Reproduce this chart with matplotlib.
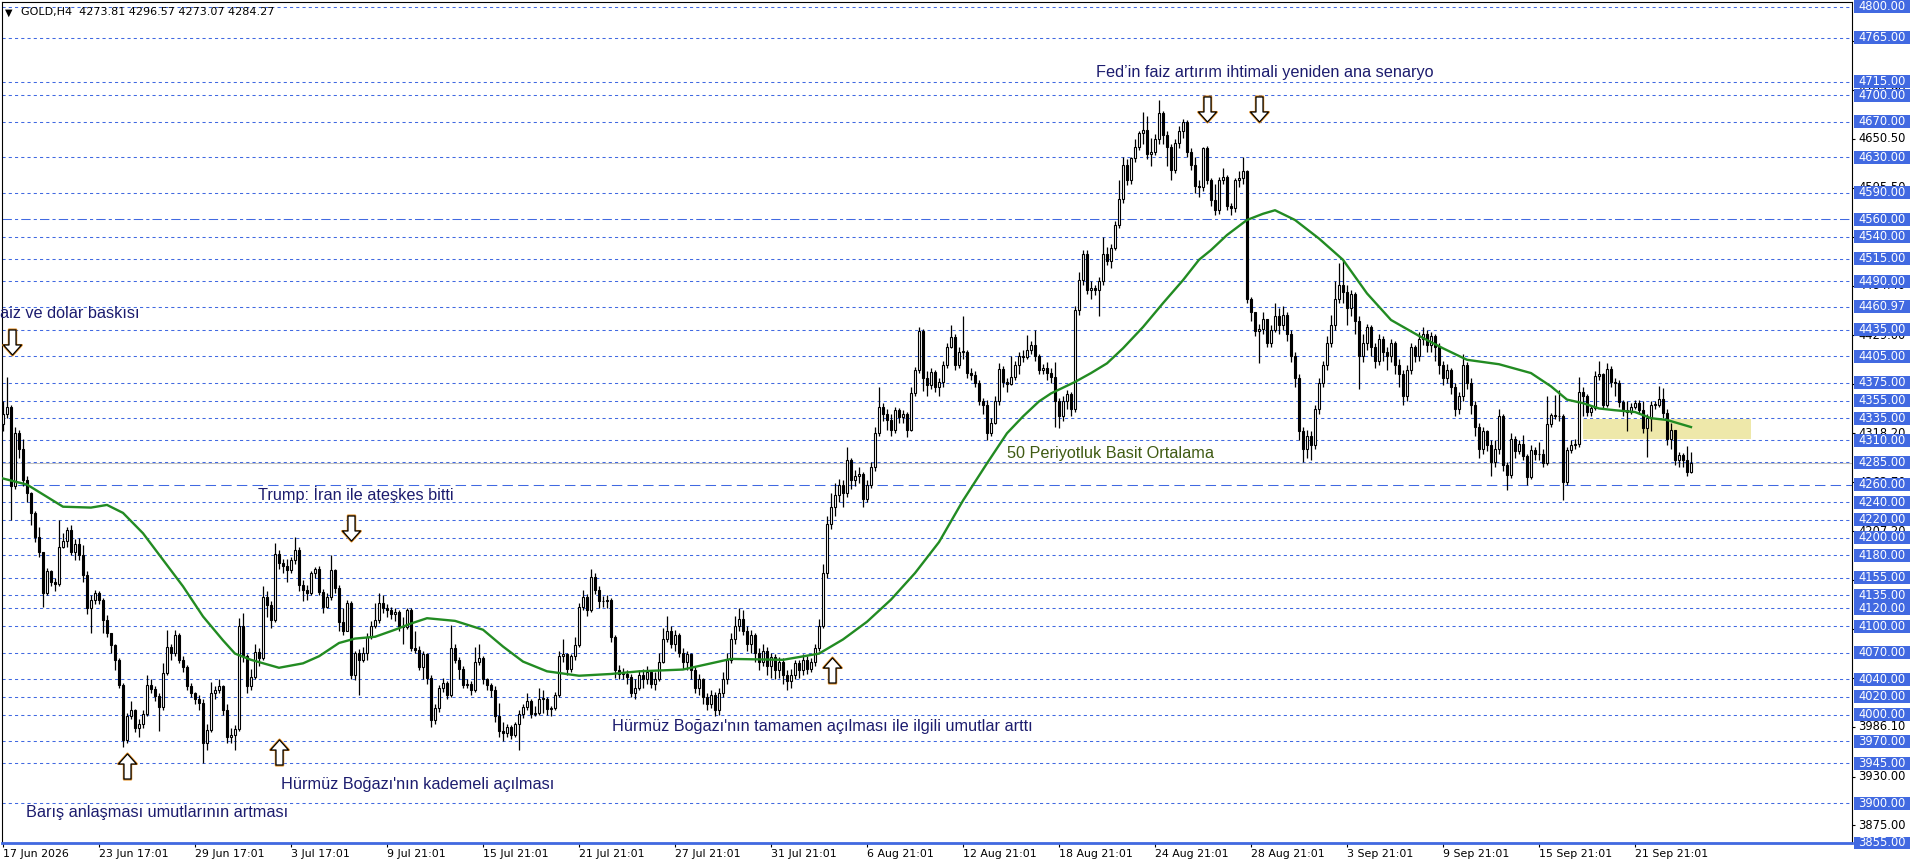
import matplotlib
matplotlib.use("Agg")
import matplotlib.pyplot as plt
from matplotlib import font_manager as fm
from matplotlib.patches import Rectangle
from matplotlib.path import Path

# ===== Data: GOLD H4 candles (open = previous close) =====
first_open = 4328
closes = [
    4340, 4348, 4258, 4318, 4300, 4265, 4250, 4228, 4201, 4184,
    4137, 4162, 4150, 4148, 4190, 4196, 4209, 4184, 4193, 4180,
    4158, 4120, 4130, 4137, 4130, 4107, 4092, 4079, 4062, 4034,
    3971, 3998, 4005, 3985, 3989, 4001, 4034, 4029, 4021, 4009,
    4047, 4077, 4070, 4090, 4062, 4054, 4032, 4024, 4018, 4013,
    3968, 3983, 4024, 4028, 4032, 4005, 3975, 3977, 3984, 4100,
    4066, 4032, 4043, 4071, 4064, 4133, 4124, 4107, 4182, 4171,
    4168, 4163, 4175, 4186, 4146, 4141, 4137, 4160, 4165, 4139,
    4122, 4133, 4163, 4143, 4105, 4094, 4126, 4045, 4070, 4062,
    4070, 4088, 4100, 4107, 4126, 4120, 4118, 4114, 4116, 4100,
    4099, 4118, 4075, 4073, 4054, 4069, 4041, 3994, 4007, 4030,
    4036, 4022, 4075, 4062, 4052, 4034, 4035, 4028, 4060, 4064,
    4040, 4034, 4028, 3998, 3981, 3979, 3986, 3977, 3989, 4001,
    4009, 4016, 4001, 4002, 4018, 4018, 4006, 4008, 4022, 4066,
    4068, 4052, 4066, 4079, 4122, 4133, 4118, 4156, 4141, 4128,
    4128, 4130, 4088, 4051, 4046, 4046, 4043, 4025, 4030, 4045,
    4040, 4048, 4035, 4040, 4060, 4085, 4095, 4080, 4090, 4070,
    4060, 4068, 4050, 4030, 4040, 4020, 4012, 4022, 4005, 4025,
    4040, 4062, 4085, 4100, 4108, 4095, 4080, 4090, 4070, 4060,
    4072, 4055, 4065, 4050, 4060, 4045, 4038, 4045, 4058, 4050,
    4062, 4052, 4060, 4075, 4100, 4160, 4215, 4235, 4248, 4260,
    4250, 4288, 4265, 4270, 4272, 4244, 4260, 4280, 4318, 4348,
    4340, 4333, 4322, 4344, 4336, 4340, 4322, 4363, 4389, 4433,
    4380, 4372, 4387, 4370, 4376, 4395, 4416, 4427, 4395, 4410,
    4410, 4386, 4384, 4375, 4355, 4350, 4318, 4330, 4355, 4391,
    4376, 4374, 4381, 4395, 4405, 4404, 4412, 4418, 4405, 4390,
    4392, 4386, 4382, 4355, 4337, 4355, 4362, 4345, 4457, 4491,
    4521, 4480, 4482, 4480, 4490, 4521, 4513, 4527, 4553, 4583,
    4621, 4604, 4629, 4642, 4657, 4661, 4634, 4636, 4650, 4680,
    4655, 4642, 4615, 4646, 4659, 4670, 4636, 4621, 4597, 4596,
    4640, 4604, 4582, 4570, 4604, 4608, 4575, 4572, 4604, 4606,
    4614, 4470, 4455, 4434, 4436, 4447, 4420, 4435, 4450, 4440,
    4452, 4430, 4405, 4380, 4320, 4300, 4315, 4305, 4345, 4375,
    4395, 4420, 4440, 4470, 4485, 4478, 4460, 4475, 4445, 4405,
    4420, 4438, 4415, 4400, 4425, 4410, 4405, 4420, 4395, 4385,
    4360, 4390, 4415, 4405, 4425, 4430, 4418, 4428, 4415, 4395,
    4380, 4390, 4370, 4345, 4360, 4395, 4375, 4350, 4325, 4300,
    4320, 4305, 4285, 4300, 4337, 4282, 4271, 4312, 4298, 4306,
    4292, 4269, 4299, 4294, 4294, 4284, 4329, 4339, 4337, 4338,
    4263, 4299, 4305, 4306, 4365, 4360, 4342, 4346, 4383, 4385,
    4350, 4391, 4376, 4375, 4353, 4344, 4342, 4348, 4352, 4344,
    4324, 4335, 4350, 4350, 4357, 4341, 4312, 4322, 4288, 4293,
    4288, 4273.81, 4284.27,
]
highs = [
    4355, 4382, 4350, 4325, 4322, 4312, 4270, 4252, 4230, 4212,
    4184, 4166, 4164, 4155, 4220, 4205, 4212, 4214, 4198, 4200,
    4192, 4162, 4135, 4141, 4140, 4132, 4113, 4092, 4080, 4064,
    4036, 4002, 4016, 4006, 3995, 4005, 4045, 4040, 4032, 4024,
    4058, 4096, 4080, 4096, 4092, 4066, 4056, 4036, 4026, 4022,
    4018, 3990, 4037, 4032, 4040, 4034, 4012, 3985, 3988, 4109,
    4115, 4068, 4052, 4080, 4075, 4145, 4140, 4128, 4194, 4186,
    4176, 4176, 4178, 4201, 4190, 4152, 4146, 4162, 4167, 4168,
    4142, 4138, 4180, 4165, 4146, 4120, 4130, 4128, 4072, 4074,
    4076, 4092, 4106, 4126, 4137, 4135, 4125, 4122, 4120, 4118,
    4110, 4120, 4120, 4094, 4078, 4072, 4070, 4045, 4012, 4034,
    4042, 4038, 4101, 4080, 4065, 4055, 4040, 4038, 4076, 4080,
    4066, 4042, 4036, 4032, 4013, 3992, 3990, 3988, 3992, 4005,
    4012, 4024, 4018, 4010, 4030, 4028, 4020, 4010, 4026, 4072,
    4085, 4070, 4068, 4088, 4126, 4141, 4136, 4165, 4160, 4145,
    4134, 4135, 4132, 4090, 4056, 4053, 4050, 4046, 4040, 4050,
    4052, 4055, 4050, 4048, 4070, 4098, 4112, 4100, 4096, 4092,
    4075, 4072, 4070, 4055, 4046, 4042, 4025, 4028, 4026, 4030,
    4048, 4070, 4092, 4112, 4120, 4118, 4100, 4096, 4092, 4075,
    4080, 4076, 4070, 4068, 4065, 4064, 4050, 4052, 4062, 4062,
    4068, 4066, 4064, 4080, 4108, 4170, 4225, 4250, 4262, 4266,
    4265, 4303, 4290, 4276, 4280, 4274, 4265, 4286, 4325, 4370,
    4352, 4345, 4340, 4348, 4346, 4344, 4342, 4370, 4393, 4438,
    4436, 4388, 4392, 4390, 4380, 4400, 4420, 4440, 4430, 4415,
    4450, 4412, 4392, 4388, 4378, 4358, 4356, 4335, 4360, 4397,
    4394, 4380, 4405, 4400, 4410, 4412, 4429, 4422, 4435, 4408,
    4396, 4398, 4392, 4399, 4358, 4360, 4367, 4365, 4462, 4500,
    4525, 4525, 4490, 4486, 4494, 4540, 4528, 4532, 4558, 4604,
    4630, 4628, 4630, 4650, 4660, 4681, 4676, 4652, 4656, 4695,
    4682, 4660, 4645, 4650, 4665, 4673, 4672, 4640, 4630, 4604,
    4642, 4643, 4606, 4600, 4608, 4618, 4610, 4578, 4606, 4614,
    4630, 4616, 4472, 4455, 4442, 4455, 4447, 4440, 4465, 4460,
    4462, 4455, 4435, 4410, 4385, 4325, 4322, 4320, 4350, 4380,
    4400, 4428, 4452, 4490, 4510, 4514, 4485, 4480, 4478, 4450,
    4430, 4442, 4440, 4420, 4430, 4428, 4415, 4425, 4422, 4402,
    4390, 4395, 4420, 4418, 4432, 4438, 4435, 4432, 4430, 4420,
    4400, 4396, 4392, 4375, 4365, 4408, 4398, 4380, 4355, 4330,
    4325, 4322, 4310, 4310, 4345, 4340, 4285, 4318, 4315, 4310,
    4316, 4294, 4305, 4302, 4308, 4300, 4360, 4341, 4361, 4367,
    4340, 4302, 4310, 4312, 4382, 4370, 4362, 4350, 4388, 4400,
    4386, 4397, 4394, 4380, 4378, 4356, 4355, 4352, 4356, 4356,
    4355, 4340, 4355, 4354, 4371, 4369, 4345, 4330, 4322, 4297,
    4296, 4304, 4296.57,
]
lows = [
    4320, 4335, 4220, 4255, 4290, 4258, 4240, 4214, 4195, 4178,
    4122, 4135, 4145, 4140, 4145, 4188, 4190, 4180, 4175, 4175,
    4150, 4114, 4092, 4125, 4125, 4092, 4088, 4070, 4050, 4030,
    3964, 3968, 3995, 3980, 3975, 3985, 3999, 4025, 4015, 3982,
    4005, 4045, 4062, 4066, 4058, 4048, 4028, 4020, 4012, 4005,
    3945, 3960, 3980, 4018, 4024, 4000, 3968, 3968, 3960, 3982,
    4060, 4025, 4028, 4040, 4055, 4062, 4110, 4098, 4105, 4165,
    4160, 4150, 4160, 4170, 4140, 4128, 4130, 4135, 4155, 4135,
    4115, 4120, 4130, 4138, 4094, 4090, 4100, 4040, 4039, 4022,
    4060, 4062, 4085, 4098, 4104, 4115, 4110, 4108, 4106, 4095,
    4080, 4097, 4072, 4070, 4050, 4040, 4035, 3986, 3990, 4003,
    4026, 4018, 4020, 4058, 4040, 4030, 4030, 4022, 4026, 4056,
    4035, 4028, 4020, 3992, 3975, 3970, 3975, 3972, 3975, 3960,
    3996, 4005, 3996, 3998, 4000, 4002, 4000, 3998, 4005, 4020,
    4060, 4045, 4048, 4062, 4076, 4118, 4112, 4116, 4136, 4120,
    4122, 4120, 4082, 4041, 4040, 4040, 4035, 4020, 4018, 4028,
    4030, 4035, 4030, 4028, 4038, 4058, 4082, 4075, 4072, 4065,
    4052, 4050, 4040, 4025, 4022, 4012, 4005, 4008, 3998, 4000,
    4020, 4035, 4058, 4080, 4095, 4090, 4072, 4070, 4060, 4050,
    4055, 4045, 4042, 4040, 4042, 4035, 4028, 4030, 4040, 4042,
    4045, 4046, 4048, 4055, 4072, 4098, 4155, 4210, 4225, 4240,
    4235, 4246, 4255, 4258, 4262, 4235, 4240, 4256, 4275, 4315,
    4332, 4322, 4315, 4318, 4330, 4330, 4314, 4320, 4360, 4386,
    4366, 4360, 4368, 4365, 4360, 4370, 4392, 4414, 4390, 4392,
    4402, 4380, 4378, 4370, 4350, 4340, 4310, 4315, 4328, 4350,
    4370, 4365, 4372, 4378, 4385, 4398, 4402, 4408, 4400, 4385,
    4385, 4378, 4375, 4325, 4324, 4332, 4345, 4338, 4342, 4452,
    4486, 4475, 4470, 4474, 4450, 4486, 4508, 4505, 4525, 4550,
    4578, 4598, 4600, 4625, 4638, 4645, 4628, 4620, 4632, 4645,
    4645, 4620, 4604, 4612, 4640, 4652, 4630, 4615, 4590, 4585,
    4592, 4600, 4575, 4565, 4566, 4600, 4570, 4565, 4568, 4596,
    4600, 4465, 4445, 4428, 4397, 4430, 4415, 4415, 4432, 4430,
    4435, 4422, 4398, 4370, 4310, 4285, 4290, 4288, 4300, 4340,
    4370, 4390, 4415, 4435, 4465, 4465, 4440, 4450, 4430, 4368,
    4398, 4412, 4405, 4392, 4395, 4400, 4390, 4398, 4385, 4370,
    4350, 4355, 4385, 4398, 4400, 4418, 4410, 4410, 4400, 4385,
    4372, 4375, 4362, 4338, 4340, 4355, 4368, 4340, 4315, 4290,
    4295, 4298, 4270, 4280, 4295, 4275, 4254, 4268, 4290, 4295,
    4288, 4260, 4266, 4288, 4288, 4280, 4282, 4325, 4334, 4332,
    4243, 4260, 4296, 4300, 4302, 4338, 4338, 4338, 4344, 4378,
    4345, 4348, 4370, 4360, 4348, 4338, 4320, 4340, 4345, 4340,
    4318, 4291, 4320, 4345, 4348, 4335, 4305, 4300, 4282, 4280,
    4280, 4270, 4273.07,
]

# 50 period simple moving average
sma_bars = [-1, 6, 15, 22, 26, 30, 35, 40, 45, 50, 55, 58, 62, 69, 75, 79, 84,
            88, 93, 98, 102, 106, 113, 120, 125, 130, 136, 144, 152, 159, 170,
            182, 195, 204, 210, 216, 222, 228, 234, 240, 246, 251, 255, 259,
            262, 268, 272, 276, 280, 285, 290, 295, 299, 302, 306, 311, 315,
            318, 323, 329, 335, 341, 347, 354, 360, 366, 374, 382, 387, 391,
            395, 399, 403, 408, 412, 416, 422]
sma_vals = [4268, 4260, 4235, 4234, 4237, 4228, 4205, 4175, 4145, 4111, 4084,
            4069, 4062, 4053, 4058, 4066, 4081, 4086, 4088, 4096, 4103, 4109,
            4106, 4096, 4077, 4060, 4049, 4044, 4046, 4049, 4051, 4063, 4062,
            4069, 4085, 4105, 4130, 4160, 4195, 4242, 4284, 4318, 4337, 4354,
            4363, 4376, 4386, 4397, 4414, 4438, 4465, 4491, 4514, 4525, 4542,
            4559, 4566, 4570, 4559, 4538, 4514, 4476, 4446, 4428, 4414, 4401,
            4396, 4386, 4371, 4356, 4352, 4346, 4344, 4342, 4335, 4333, 4325]

# Horizontal levels drawn on the chart
dotted_levels = [4800, 4765, 4715, 4700, 4670, 4630, 4590, 4540, 4515, 4490,
                 4460.97, 4435, 4405, 4375, 4355, 4335, 4310, 4285, 4240, 4220,
                 4200, 4180, 4155, 4135, 4120, 4100, 4070, 4040, 4020, 4000,
                 3970, 3945, 3900]
dashdot_level = 4560
dashed_level = 4260
bottom_level = 3855
bid_price = 4284.27
label_levels = sorted(dotted_levels + [dashdot_level, dashed_level, bottom_level],
                      reverse=True)
scale_levels = [3875.00, 3930.00, 3986.10, 4041.20, 4096.60, 4151.90, 4207.20,
                4262.70, 4318.20, 4373.60, 4429.00, 4484.40, 4539.80, 4595.50,
                4650.50, 4705.90, 4761.30]
zone_bars = (395, 437)
zone_prices = (4311.5, 4334.1)

tick_bars = [0, 24, 48, 72, 96, 120, 144, 168, 192, 216, 240, 264, 288, 312,
             336, 360, 384, 408]
tick_labels = ["17 Jun 2026", "23 Jun 17:01", "29 Jun 17:01", "3 Jul 17:01",
               "9 Jul 21:01", "15 Jul 21:01", "21 Jul 21:01", "27 Jul 21:01",
               "31 Jul 21:01", "6 Aug 21:01", "12 Aug 21:01", "18 Aug 21:01",
               "24 Aug 21:01", "28 Aug 21:01", "3 Sep 21:01", "9 Sep 21:01",
               "15 Sep 21:01", "21 Sep 21:01"]

# arrows: (bar, price)
down_arrows = [(2.2, 4420.6), (87, 4211), (301, 4684), (314, 4684)]
up_arrows = [(207.3, 4050), (69, 3957.7), (31, 3942)]

# annotation texts: (text, x px, y px)
notes = [
    ("aiz ve dolar baskısı", 0, 314),
    ("Trump: İran ile ateşkes bitti", 258, 495),
    ("Fed’in faiz artırım ihtimali yeniden ana senaryo", 1096, 73),
    ("Hürmüz Boğazı'nın tamamen açılması ile ilgili umutlar arttı", 612, 727),
    ("Hürmüz Boğazı'nın kademeli açılması", 281, 785),
    ("Barış anlaşması umutlarının artması", 26, 812),
]
ma_note = ("50 Periyotluk Basit Ortalama", 1007, 453)
header = "GOLD,H4  4273.81 4296.57 4273.07 4284.27"

# ===== Style =====
BLUE = "#4169E1"
NOTE_C = "#1C1C6E"
MA_C = "#228B22"
W, H = 1916, 868


def font_ok(name):
    try:
        fm.findfont(fm.FontProperties(family=name), fallback_to_default=False)
        return True
    except ValueError:
        return False


if font_ok("Liberation Sans Narrow"):
    note_font, note_size = ["Liberation Sans Narrow", "DejaVu Sans"], 14.3
else:
    note_font, note_size = ["Liberation Sans", "DejaVu Sans"], 11.7

fig = plt.figure(figsize=(W / 100, H / 100), dpi=100)
fig.patch.set_facecolor("white")
ax = fig.add_axes([2 / W, 25 / H, 1850 / W, 841 / H])
ax.set_xlim(-0.25, 462.25)
ax.set_ylim(3855, 4805.3)

# ----- levels -----
for lv in dotted_levels:
    ax.axhline(lv, color=BLUE, lw=0.75, ls=(0, (3, 3)), zorder=1)
ax.axhline(dashdot_level, color=BLUE, lw=0.75, ls=(0, (9, 3, 3, 3)), zorder=1)
ax.axhline(dashed_level, color=BLUE, lw=0.75, ls=(0, (10, 5)), zorder=1)
ax.axhline(bid_price, color="#C0C0C0", lw=0.75, zorder=0.9)
ax.axhline(bottom_level, color=BLUE, lw=2, zorder=6, clip_on=False)

ax.add_patch(Rectangle((zone_bars[0], zone_prices[0]), zone_bars[1] - zone_bars[0],
                       zone_prices[1] - zone_prices[0], facecolor="#EEE8AA",
                       edgecolor="none", zorder=1.5))

# ----- candles -----
opens = [first_open] + closes[:-1]
xs = list(range(len(closes)))
his = [max(h, o, c) for h, o, c in zip(highs, opens, closes)]
los = [min(l, o, c) for l, o, c in zip(lows, opens, closes)]
ax.vlines(xs, los, his, color="black", lw=0.9, zorder=2)
faces = ["white" if c >= o else "black" for o, c in zip(opens, closes)]
heights = [max(abs(c - o), 0.9) for o, c in zip(opens, closes)]
bottoms = [min(o, c) for o, c in zip(opens, closes)]
ax.bar(xs, heights, bottom=bottoms, width=0.68, color=faces, edgecolor="black",
       linewidth=0.8, zorder=3)

# ----- moving average -----
ax.plot(sma_bars, sma_vals, color=MA_C, lw=1.7, zorder=4)

# ----- arrows -----
dv = [(-0.14, 0.5), (0.14, 0.5), (0.14, -0.1), (0.36, -0.1), (0.0, -0.5),
      (-0.36, -0.1), (-0.14, -0.1), (-0.14, 0.5)]
down_path = Path(dv, closed=True)
up_path = Path([(x, -y) for x, y in dv], closed=True)
for pts, pth in ((down_arrows, down_path), (up_arrows, up_path)):
    for bx, by in pts:
        ax.plot(bx, by, marker=pth, ms=18.6, mfc="white", mec="#E08A1E", mew=1.6,
                zorder=7, clip_on=False)
        ax.plot(bx, by, marker=pth, ms=18, mfc="white", mec="black", mew=0.9,
                zorder=8, clip_on=False)

# ----- annotation texts -----
for txt, px, py in notes:
    fig.text(px / W, 1 - py / H, txt, color=NOTE_C, family=note_font,
             fontsize=note_size, ha="left", va="center", zorder=9)
fig.text(ma_note[1] / W, 1 - ma_note[2] / H, ma_note[0], color="#3F5A12",
         family=note_font, fontsize=note_size, ha="left", va="center")

fig.text(5 / W, 1 - 12.5 / H, "▼", fontsize=7, color="black", va="center",
         family="DejaVu Sans")
fig.text(21 / W, 1 - 12.5 / H, header, fontsize=8.0, color="black", va="center",
         family="DejaVu Sans")

# ----- axes frame and time scale -----
for sp in ax.spines.values():
    sp.set_color("black")
    sp.set_linewidth(0.8)
ax.set_xticks(tick_bars)
ax.set_xticklabels(tick_labels, ha="left", fontsize=7.9, family="DejaVu Sans")
ax.tick_params(axis="x", length=3, width=0.8, pad=1.5, direction="out")
ax.yaxis.tick_right()
ax.set_yticks(scale_levels)
ax.set_yticklabels([])
ax.tick_params(axis="y", length=2.5, width=0.8, direction="out")

ytr = ax.get_yaxis_transform()
for lv in scale_levels:
    ax.text(1 + 6 / 1850, lv, f"{lv:.2f}", transform=ytr, fontsize=8.3,
            family="DejaVu Sans", color="black", ha="left", va="center",
            clip_on=False, zorder=5)
box_h = 13 / 0.885
for lv in label_levels:
    ax.add_patch(Rectangle((1 + 2 / 1850, lv - box_h / 2), 56 / 1850, box_h,
                           transform=ytr, facecolor=BLUE, edgecolor="none",
                           clip_on=False, zorder=10))
    ax.text(1 + 6 / 1850, lv, f"{lv:.2f}", transform=ytr, fontsize=8.3,
            family="DejaVu Sans", color="white", ha="left", va="center",
            clip_on=False, zorder=11)

fig.savefig("out.png", dpi=100, facecolor="white")
